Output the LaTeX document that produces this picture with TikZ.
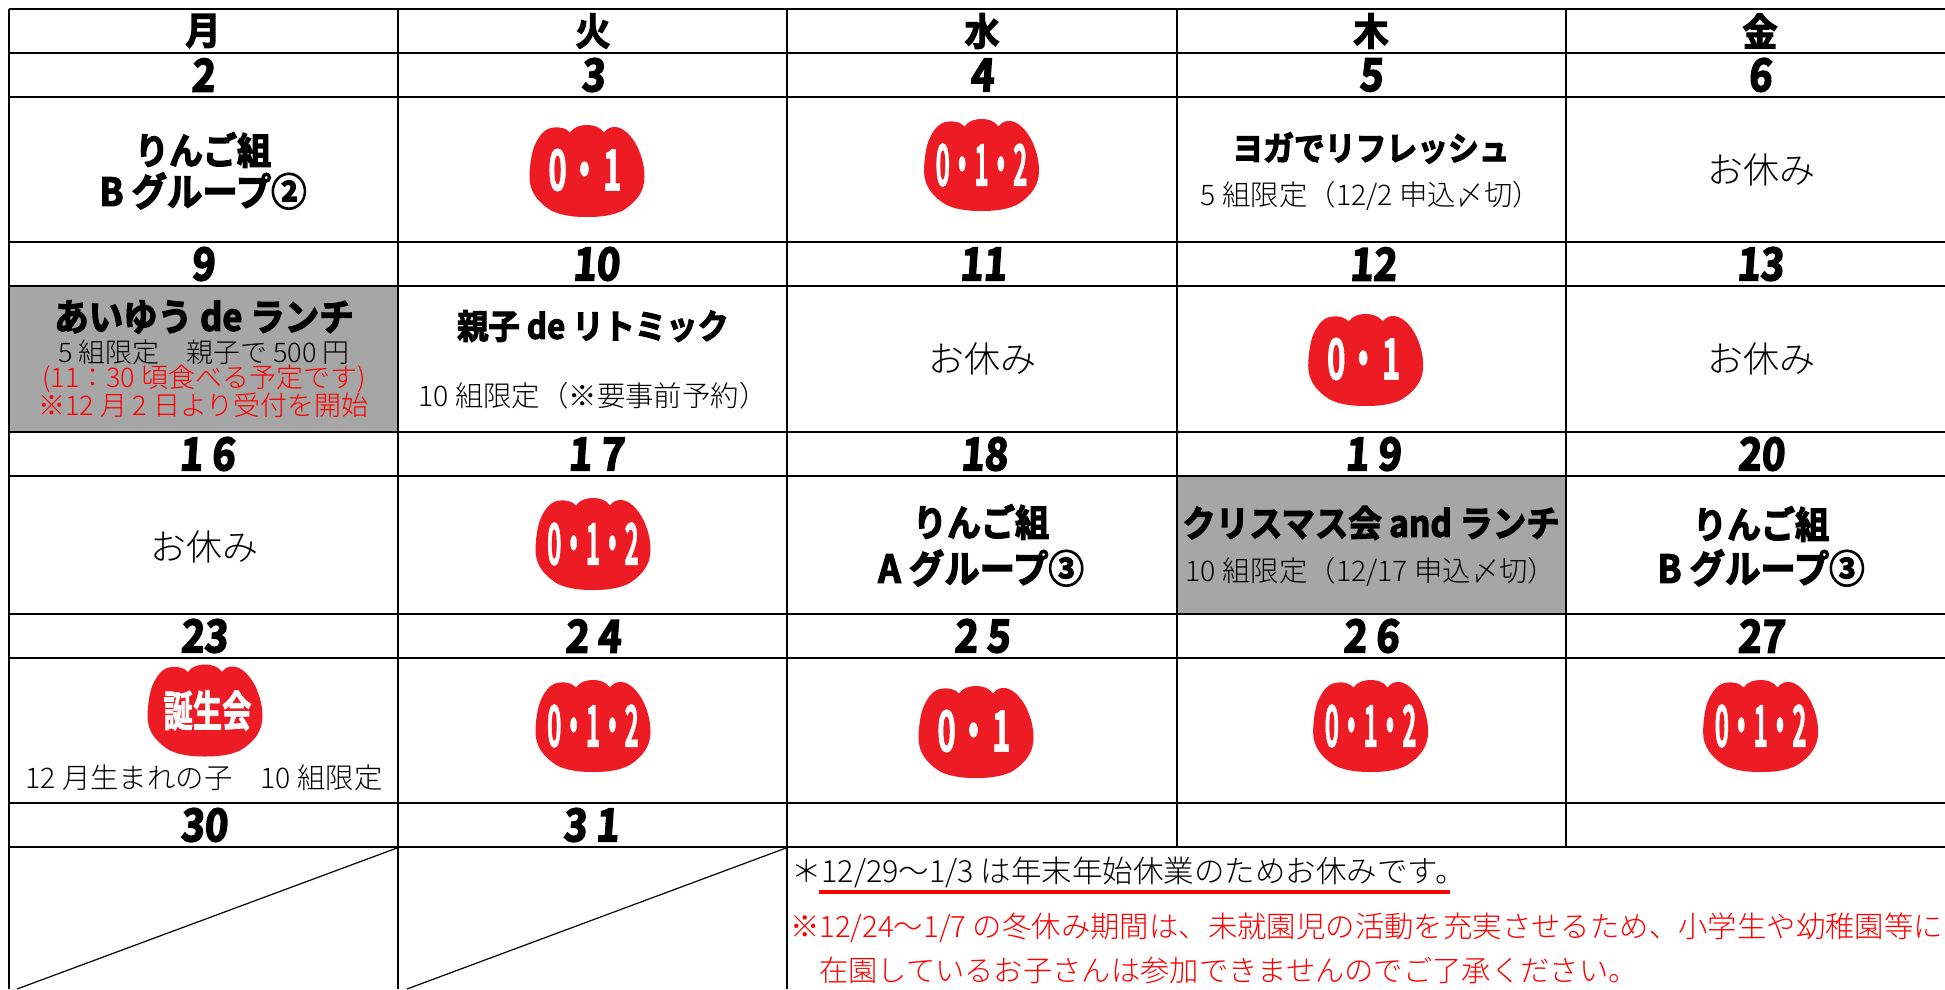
\documentclass[tikz,border=0pt]{standalone}
\usepackage{fontspec}
\setmainfont{Noto Sans CJK JP}
\IfFontExistsTF{Noto Sans CJK JP Light}{\newfontfamily\bodyf{Noto Sans CJK JP Light}}{\newfontfamily\bodyf{Noto Sans CJK JP}}
\newfontfamily\popf[UprightFont=* Bold,FakeBold=3.2,FakeStretch=.92]{Noto Sans CJK JP}
\newfontfamily\numf[UprightFont=* Bold,FakeBold=3.6,FakeStretch=.88,FakeSlant=.07]{Noto Sans CJK JP}
\newfontfamily\tula[UprightFont=* Bold,FakeBold=1,FakeStretch=.55]{Noto Sans CJK JP}
\newfontfamily\tulb[UprightFont=* Bold,FakeBold=.6,FakeStretch=.42]{Noto Sans CJK JP}
\newfontfamily\tulc[UprightFont=* Bold,FakeBold=1.5,FakeStretch=.68]{Noto Sans CJK JP}
\definecolor{tulipred}{HTML}{ED1C24}
\definecolor{cellgray}{HTML}{A6A6A6}
\definecolor{notered}{HTML}{FF0000}
\newcommand{\popsize}[1]{\popf\fontsize{#1}{#1}\selectfont}
\tikzset{
  every node/.style={inner sep=0pt,outer sep=0pt},
  dayname/.style={font=\popsize{38},text=black},
  daynum/.style={font=\numf\fontsize{45}{45}\selectfont,text=black},
  title/.style={font=\popsize{37},text=black},
  grouptitle/.style={font=\popsize{38.5},text=black},
  rest/.style={font=\bodyf\fontsize{36}{36}\selectfont,text=black},
  small/.style={font=\bodyf\fontsize{28.4}{28.4}\selectfont,text=black},
  tiny/.style={font=\bodyf\fontsize{27}{27}\selectfont,text=black},
  tinyred/.style={font=\bodyf\fontsize{27}{27}\selectfont,text=notered},
  note/.style={anchor=west},
  gridh/.style={line width=2.2pt,black},
  gridv/.style={line width=1.9pt,black},
  diag/.style={line width=1.2pt,black},
}
\newcommand{\tulipshape}[4]{%
  \begin{scope}[shift={(#2,#3)}]
    \fill[tulipred] (-17,7.5) .. controls (-13,1.5) and (-6,0) .. (0,0)
      .. controls (6,0) and (13,1.5) .. (17,7.5)
      .. controls (20,3) and (25,1.5) .. (29,2)
      .. controls (38,3) and (48,14) .. (53,28)
      .. controls (56,36) and (57.5,44) .. (57.5,52)
      .. controls (57.5,66) and (50,77) .. (35,86)
      .. controls (24,91) and (12,92) .. (0,92)
      .. controls (-12,92) and (-24,91) .. (-35,86)
      .. controls (-50,77) and (-57.5,66) .. (-57.5,52)
      .. controls (-57.5,44) and (-56,30) .. (-53,22)
      .. controls (-48,10) and (-42,3) .. (-33,2.5)
      .. controls (-27,2) and (-21,3) .. (-17,7.5) -- cycle;
    #4
  \end{scope}}
\newcommand{\tulA}[3]{\tulipshape{#1}{#2}{#3}{\node[text=white,font=\tula\fontsize{57}{57}\selectfont] (#1t) at (-2,45) {0\hspace{2pt}・\hspace{3pt}1};}}
\newcommand{\tulB}[3]{\tulipshape{#1}{#2}{#3}{\node[text=white,font=\tulb\fontsize{58}{58}\selectfont] (#1t) at (0,46) {0・1・2};}}
\begin{document}
\begin{tikzpicture}[x=1pt,y=-1pt]
\useasboundingbox (0,0) rectangle (1945,989);
\clip (0,0) rectangle (1945,989);
\fill[white] (0,0) rectangle (1945,989);
\fill[cellgray] (9,286) rectangle (398,432);
\fill[cellgray] (1177,476) rectangle (1566,614);
% grid
\foreach \yy in {9,53,97,242,286,432,476,614,658,803,847}
  \draw[gridh] (9,\yy) -- (1945,\yy);
\foreach \xx in {9,398,787}
  \draw[gridv] (\xx,9) -- (\xx,989);
\foreach \xx in {1177,1566}
  \draw[gridv] (\xx,9) -- (\xx,847);
% diagonals
\coordinate (d1a) at (397,848); \coordinate (d1b) at (17,989);
\coordinate (d2a) at (786,848); \coordinate (d2b) at (407,989);
\draw[diag] (d1a) -- (d1b);
\draw[diag] (d2a) -- (d2b);
% day names
\node[dayname] (hmon) at (203,31) {月};
\node[dayname] (htue) at (593,31) {火};
\node[dayname] (hwed) at (982,31) {水};
\node[dayname] (hthu) at (1371,31) {木};
\node[dayname] (hfri) at (1760,31) {金};
% dates
\node[daynum] (n2) at (203,75) {2};
\node[daynum] (n3) at (593,75) {3};
\node[daynum] (n4) at (982,75) {4};
\node[daynum] (n5) at (1371,75) {5};
\node[daynum] (n6) at (1760,75) {6};
\node[daynum] (n9) at (203,264) {9};
\node[daynum] (n10) at (596,264) {10};
\node[daynum] (n11) at (983,264) {11};
\node[daynum] (n12) at (1373,264) {12};
\node[daynum] (n13) at (1760,264) {13};
\node[daynum] (n16) at (207,454) {1 6};
\node[daynum] (n17) at (596,454) {1 7};
\node[daynum] (n18) at (984,454) {18};
\node[daynum] (n19) at (1373,454) {1 9};
\node[daynum] (n20) at (1761,454) {20};
\node[daynum] (n23) at (204,636) {23};
\node[daynum] (n24) at (593,636) {2 4};
\node[daynum] (n25) at (982,636) {2 5};
\node[daynum] (n26) at (1371,636) {2 6};
\node[daynum] (n27) at (1761,636) {27};
\node[daynum] (n30) at (204,825) {30};
\node[daynum] (n31) at (591,825) {3 1};
% row 1
\node[title] (e1a) at (203,150) {りんご組};
\node[grouptitle] (e1b) at (203,191) {B グループ②};
\tulA{t3}{587}{125}
\tulB{t4}{981.5}{119}
\node[font=\popsize{33.5}] (e5a) at (1371,148) {ヨガでリフレッシュ};
\node[small] (e5b) at (1371,196) {5 組限定（12/2 申込〆切）};
\node[rest] (e6) at (1761,170) {お休み};
% row 2
\node[font=\popsize{37.5}] (e9a) at (204,317) {あいゆう de ランチ};
\node[tiny] (e9b) at (204,352) {5 組限定　親子で 500 円};
\node[tinyred] (e9c) at (204,379) {(11：30 頃食べる予定です)};
\node[tinyred] (e9d) at (203.5,405.5) {※12 月 2 日より受付を開始};
\node[font=\popsize{34}] (e10a) at (593,326) {親子 de リトミック};
\node[small] (e10b) at (593,396) {10 組限定（※要事前予約）};
\node[rest] (e11) at (982.5,359) {お休み};
\tulA{t12}{1365.7}{314}
\node[rest] (e13) at (1761,359) {お休み};
% row 3
\node[rest] (e16) at (204.5,547) {お休み};
\tulB{t17}{593}{498}
\node[title] (e18a) at (981,522) {りんご組};
\node[grouptitle] (e18b) at (981,568) {A グループ③};
\node[font=\popsize{36.3}] (e19a) at (1371,523) {クリスマス会 and ランチ};
\node[small] (e19b) at (1371,572) {10 組限定（12/17 申込〆切）};
\node[title] (e20a) at (1761,524) {りんご組};
\node[grouptitle] (e20b) at (1761,568) {B グループ③};
% row 4
\tulipshape{t23}{205}{664.5}{\node[text=white,font=\tulc\fontsize{43}{43}\selectfont] (t23t) at (2.5,46) {誕生会};}
\node[small] (e23) at (204,778) {12 月生まれの子　10 組限定};
\tulB{t24}{593}{680}
\tulA{t25}{976}{686}
\tulB{t26}{1370.6}{680}
\tulB{t27}{1760.6}{680}
% notes
\node[note,text=black,font=\bodyf\fontsize{30.5}{30.5}\selectfont] (na) at (791,872) {＊12/29〜1/3 は年末年始休業のためお休みです。};
\coordinate (ula) at (819,892); \coordinate (ulb) at (1450,892);
\draw[line width=3.5pt,notered] (ula) -- (ulb);
\node[note,text=notered,font=\bodyf\fontsize{29.4}{29.4}\selectfont] (nb) at (790,928) {※12/24〜1/7 の冬休み期間は、未就園児の活動を充実させるため、小学生や幼稚園等に};
\node[note,text=notered,font=\bodyf\fontsize{29.3}{29.3}\selectfont] (nc) at (819,970) {在園しているお子さんは参加できませんのでご了承ください。};
\end{tikzpicture}
\end{document}
